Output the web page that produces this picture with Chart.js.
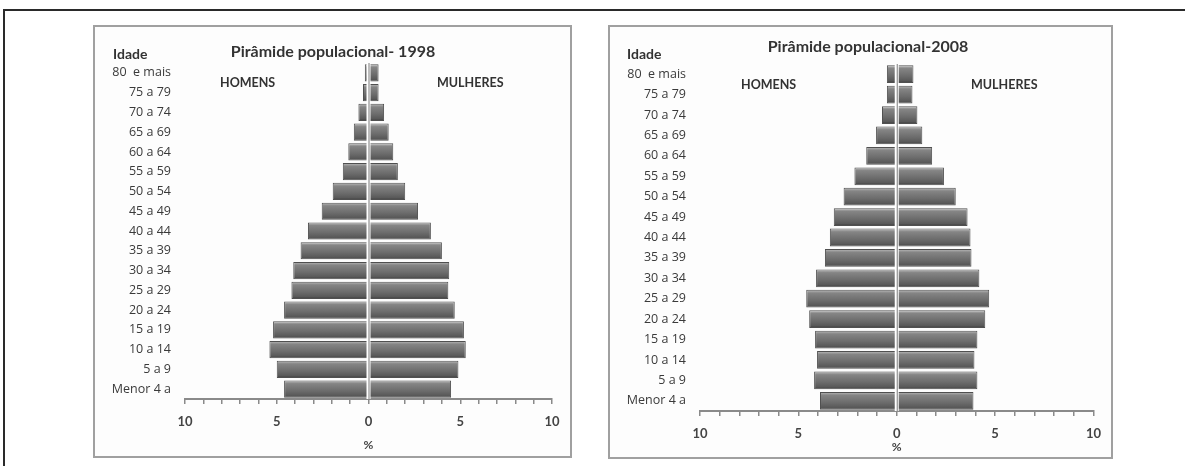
<!DOCTYPE html>
<html>
<head>
<meta charset="utf-8">
<script src="https://cdn.jsdelivr.net/npm/chart.js@4/dist/chart.umd.min.js"></script>
<style>
  body { margin: 0; background: #fff; width: 1185px; height: 466px; overflow: hidden; position: relative; font-family: Lato, sans-serif; }
  .frame { position: absolute; left: 3px; top: 9px; width: 1200px; height: 470px; border-top: 2px solid #2a2a2a; border-left: 2px solid #2a2a2a; }
  .panel { position: absolute; border: 2px solid #a0a0a0; background: #fdfdfd; box-sizing: border-box; }
  .panel canvas { position: absolute; left: 0; top: 0; }
</style>
</head>
<body>
<div class="frame"></div>
<div class="panel" style="left:93px; top:25px; width:479px; height:433px;">
  <canvas id="chart1998" width="475" height="429"></canvas>
</div>
<div class="panel" style="left:608px; top:25px; width:505px; height:434px;">
  <canvas id="chart2008" width="501" height="430"></canvas>
</div>
<script>
// faixas etarias, de cima para baixo
var ageGroups = ['80  e mais', '75 a 79', '70 a 74', '65 a 69', '60 a 64', '55 a 59', '50 a 54',
  '45 a 49', '40 a 44', '35 a 39', '30 a 34', '25 a 29', '20 a 24', '15 a 19', '10 a 14', '5 a 9', 'Menor 4 a'];

// % da populacao
var men1998 = [0.2, 0.3, 0.55, 0.8, 1.1, 1.4, 1.95, 2.55, 3.3, 3.7, 4.1, 4.2, 4.6, 5.2, 5.4, 5.0, 4.6];
var women1998 = [0.55, 0.55, 0.85, 1.1, 1.35, 1.6, 2.0, 2.7, 3.4, 4.0, 4.4, 4.35, 4.7, 5.2, 5.3, 4.9, 4.5];
var men2008 = [0.5, 0.5, 0.75, 1.05, 1.55, 2.15, 2.7, 3.2, 3.4, 3.65, 4.1, 4.6, 4.45, 4.15, 4.05, 4.2, 3.9];
var women2008 = [0.85, 0.8, 1.05, 1.3, 1.8, 2.4, 3.0, 3.6, 3.75, 3.8, 4.2, 4.7, 4.5, 4.1, 3.95, 4.1, 3.9];

var xTickValues = [-10, -5, 0, 5, 10];

var BAR_PCT = 0.87;

function barFill(context) {
    var chart = context.chart;
    var yScale = chart.scales.y;
    if (!yScale || context.dataIndex === undefined) return '#707070';
    var y = yScale.getPixelForValue(context.dataIndex);
    var h = yScale.height / ageGroups.length * BAR_PCT;
    if (!isFinite(y) || !isFinite(h) || h <= 0) return '#707070';
    var g = chart.ctx.createLinearGradient(0, y - h / 2, 0, y + h / 2);
    g.addColorStop(0, '#c0c0c0');
    g.addColorStop(0.18, '#858585');
    g.addColorStop(0.6, '#6c6c6c');
    g.addColorStop(0.88, '#585858');
    g.addColorStop(1, '#363636');
    return g;
}

var centerLine = {
    id: 'centerLine',
    afterDatasetsDraw: function(chart) {
        var ctx = chart.ctx;
        var x0 = chart.scales.x.getPixelForValue(0);
        var area = chart.chartArea;
        ctx.save();
        ctx.fillStyle = '#ffffff';
        ctx.fillRect(x0 - 2, area.top, 4, area.bottom - area.top);
        ctx.strokeStyle = '#7a7a7a';
        ctx.lineWidth = 1;
        ctx.beginPath();
        ctx.moveTo(x0 + 0.5, area.top);
        ctx.lineTo(x0 + 0.5, area.bottom);
        ctx.stroke();
        ctx.restore();
    }
};

var panelText = {
    id: 'panelText',
    afterDraw: function(chart, args, opts) {
        var ctx = chart.ctx;
        ctx.save();
        ctx.fillStyle = '#333';
        ctx.textBaseline = 'middle';
        ctx.font = 'bold 16px Lato';
        ctx.textAlign = 'center';
        ctx.fillText(opts.title, opts.titleX, opts.titleY);
        ctx.textAlign = 'left';
        ctx.font = 'bold 14px Lato';
        ctx.fillText('Idade', opts.idadeX, opts.idadeY);
        ctx.font = 'bold 12.5px Lato';
        ctx.fillText('HOMENS', opts.menX, opts.sexY);
        ctx.fillText('MULHERES', opts.womenX, opts.sexY);
        ctx.restore();
    }
};

function makePyramid(canvasId, men, women, text, layout) {
    var ctx = document.getElementById(canvasId).getContext('2d');
    return new Chart(ctx, {
        type: 'bar',
        data: {
            labels: ageGroups,
            datasets: [{
                label: 'Homens',
                data: men.map(function(v) { return -v; }),
                backgroundColor: barFill,
                borderColor: '#505050',
                borderWidth: 1,
                barPercentage: BAR_PCT,
                categoryPercentage: 1
            }, {
                label: 'Mulheres',
                data: women,
                backgroundColor: barFill,
                borderColor: '#505050',
                borderWidth: 1,
                barPercentage: BAR_PCT,
                categoryPercentage: 1
            }]
        },
        options: {
            indexAxis: 'y',
            responsive: false,
            animation: false,
            layout: { padding: { top: layout.top, right: layout.right, left: 0, bottom: 0 } },
            plugins: {
                legend: { display: false },
                tooltip: { enabled: false },
                panelText: text
            },
            scales: {
                x: {
                    stacked: true,
                    min: -10,
                    max: 10,
                    afterFit: function(scale) { scale.height = layout.xHeight; },
                    afterBuildTicks: function(scale) {
                        var t = [];
                        for (var v = -10; v <= 10; v++) t.push({ value: v });
                        scale.ticks = t;
                    },
                    ticks: {
                        autoSkip: false,
                        maxRotation: 0,
                        padding: 10,
                        color: '#444',
                        font: { family: 'Lato', size: 13, weight: 'bold' },
                        callback: function(value) {
                            return xTickValues.indexOf(value) >= 0 ? String(Math.abs(value)) : '';
                        }
                    },
                    grid: { drawOnChartArea: false, drawTicks: true, tickLength: 5, color: '#8a8a8a', lineWidth: 1.5 },
                    border: { display: true, color: '#8a8a8a', width: 2 },
                    title: {
                        display: true,
                        text: '%',
                        color: '#444',
                        font: { family: 'Lato', size: 12, weight: 'bold' },
                        padding: { top: 0, bottom: layout.pctPad }
                    }
                },
                y: {
                    stacked: true,
                    afterFit: function(scale) { scale.width = 90; },
                    ticks: {
                        padding: 14,
                        color: '#3a3a3a',
                        font: { family: 'Open Sans', size: 12.5 }
                    },
                    grid: { display: false, drawTicks: false },
                    border: { display: false }
                }
            }
        },
        plugins: [centerLine, panelText]
    });
}

document.addEventListener("DOMContentLoaded", function() {
    makePyramid('chart1998', men1998, women1998,
        { title: 'Pirâmide populacional- 1998', titleX: 238, titleY: 25, idadeX: 18, idadeY: 27, menX: 125, womenX: 342, sexY: 56 },
        { top: 36, right: 18, xHeight: 57, pctPad: 4 });
    makePyramid('chart2008', men2008, women2008,
        { title: 'Pirâmide populacional-2008', titleX: 258, titleY: 20, idadeX: 17, idadeY: 27, menX: 131, womenX: 361, sexY: 58 },
        { top: 37, right: 14, xHeight: 46, pctPad: 3 });
});
</script>
</body>
</html>
